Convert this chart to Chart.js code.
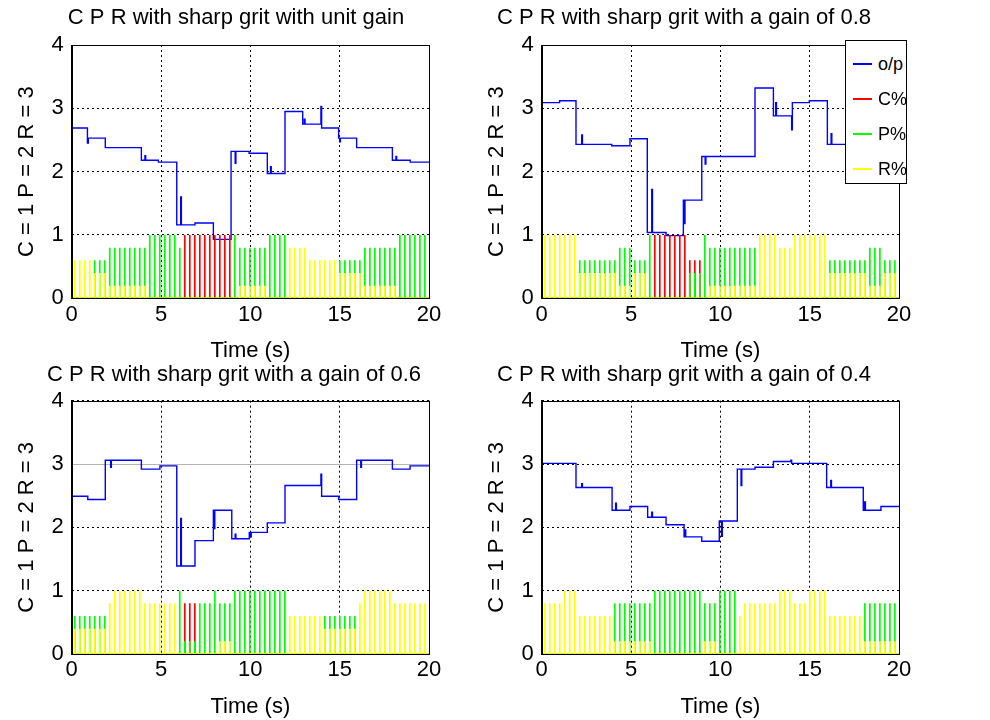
<!DOCTYPE html>
<html><head><meta charset="utf-8">
<script src="https://cdn.jsdelivr.net/npm/chart.js@4/dist/chart.umd.min.js"></script>
<style>
body{margin:0;background:#fff;width:990px;height:720px;position:relative;overflow:hidden;font-family:"Liberation Sans",Arial,sans-serif}
canvas{position:absolute}
#legend{position:absolute;left:845px;top:40px;width:62px;height:144px;border:1px solid #000;background:#fff;box-sizing:border-box}
#legend .row{position:absolute;left:0;height:20px;width:100%}
#legend .ln{position:absolute;left:7px;width:19px;top:10px;height:2px}
#legend .tx{position:absolute;left:32px;top:0px;font-size:18px;line-height:22px;color:#000}
</style></head><body>
<canvas id="p1" width="495" height="372" style="left:0;top:0"></canvas>
<canvas id="p2" width="520" height="372" style="left:470px;top:0"></canvas>
<canvas id="p3" width="495" height="360" style="left:0;top:360px"></canvas>
<canvas id="p4" width="520" height="360" style="left:470px;top:360px"></canvas>
<div id="legend"></div>
<script>
// ---- data ----
const TITLES = [
  "C P R with sharp grit with unit gain",
  "C P R with sharp grit with a gain of 0.8",
  "C P R with sharp grit with a gain of 0.6",
  "C P R with sharp grit with a gain of 0.4"
];
const X_LABEL = "Time (s)";
const Y_LABEL = "C = 1 P = 2 R = 3";
const X_TICKS = [0, 5, 10, 15, 20];
const Y_TICKS = [0, 1, 2, 3, 4];
const SERIES_NAMES = ["o/p", "C%", "P%", "R%"];
const SERIES_COLORS = ["#0000ff", "#ff0000", "#00ff00", "#ffff00"];

// pulse instants (s)
const PULSE_T = [0.17,0.45,0.73,1.01,1.29,1.57,1.85,2.13,2.41,2.69,2.97,3.25,3.53,3.81,4.09,4.37,4.65,4.93,5.21,5.49,
  5.77,6.05,6.33,6.61,6.89,7.17,7.45,7.73,8.01,8.29,8.57,8.85,9.13,9.41,9.69,9.97,10.25,10.53,10.81,11.09,
  11.37,11.65,11.93,12.21,12.49,12.77,13.05,13.33,13.61,13.89,14.17,14.45,14.73,15.01,15.29,15.57,15.85,16.13,16.41,16.69,
  16.97,17.25,17.53,17.81,18.09,18.37,18.65,18.93,19.21,19.49,19.77];

// pulse levels: [first pulse, last pulse, C%, P%, R%]
const LEVELS_1 = [[0,3,0,0,0.6],[4,6,0,0.6,0.4],[7,14,0,0.8,0.2],[15,20,0,1,0],[21,21,0,0.8,0],[22,31,1,0,0],
  [32,32,0,1,0],[33,38,0,0.8,0.2],[39,42,0,1,0],[43,46,0,0,0.8],[47,52,0,0,0.6],[53,57,0,0.6,0.4],[58,64,0,0.8,0.2],[65,70,0,1,0]];
const LEVELS_2 = [[0,6,0,0,1],[7,14,0,0.6,0.4],[15,17,0,0.8,0.2],[18,20,0,0.6,0.4],[21,21,0,1,0],[22,28,1,0,0],
  [29,31,0.6,0.4,0],[32,32,0,1,0],[33,42,0,0.8,0.2],[43,46,0,0,1],[47,49,0,0,0.8],[50,56,0,0,1],[57,64,0,0.6,0.4],
  [65,67,0,0.8,0.2],[68,70,0,0.6,0.4]];
const LEVELS_3 = [[0,6,0,0.6,0.4],[7,7,0,0,0.8],[8,13,0,0,1],[14,20,0,0,0.8],[21,21,0,1,0],[22,24,0.8,0.2,0],
  [25,27,0,0.8,0],[28,28,0,1,0],[29,31,0,0.8,0.2],[32,42,0,1,0],[43,49,0,0,0.6],[50,56,0,0.6,0.4],[57,57,0,0,0.8],
  [58,63,0,0,1],[64,70,0,0,0.8]];
const LEVELS_4 = [[0,3,0,0,0.8],[4,6,0,0,1],[7,13,0,0,0.6],[14,21,0,0.8,0.2],[22,31,0,1,0],[32,34,0,0.8,0.2],
  [35,38,0,1,0],[39,39,0,0,0.6],[40,46,0,0,0.8],[47,49,0,0,1],[50,52,0,0,0.8],[53,56,0,0,1],[57,63,0,0,0.6],[64,70,0,0.8,0.2]];

// output (o/p) steps: [time, value from that time on]
const OUT_1 = [[0,2.69],[0.88,2.45],[0.93,2.53],[1.88,2.38],[3.9,2.18],[4.1,2.25],[4.14,2.18],[4.85,2.15],[5.88,1.16],
  [6.1,1.6],[6.14,1.16],[6.9,1.19],[7.93,0.93],[8.92,2.32],[9.15,2.13],[9.19,2.32],[9.93,2.29],[10.95,1.97],[11.13,2.08],
  [11.17,1.97],[11.94,2.95],[12.93,2.75],[13.02,2.83],[13.06,2.75],[13.95,3.03],[13.99,2.69],[14.94,2.53],[15.0,2.47],
  [15.04,2.53],[15.95,2.38],[17.95,2.18],[18.15,2.24],[18.19,2.18],[18.95,2.15],[20,2.15]];
const OUT_2 = [[0,3.09],[1.0,3.12],[1.92,2.43],[2.24,2.58],[2.28,2.43],[3.92,2.41],[4.94,2.52],[5.91,1.04],[6.16,1.72],
  [6.2,1.04],[6.96,0.99],[7.93,1.55],[7.98,1.18],[8.02,1.55],[8.96,2.24],[9.15,2.12],[9.19,2.24],[11.94,3.32],[12.97,2.88],
  [13.1,3.09],[13.14,2.88],[13.99,2.66],[14.03,3.09],[14.98,3.12],[15.99,2.43],[16.2,2.6],[16.24,2.43],[17.95,2.41],
  [18.95,2.45],[20,2.45]];
const OUT_3 = [[0,2.49],[0.9,2.44],[1.88,3.06],[2.18,2.95],[2.22,3.06],[3.9,2.92],[4.94,2.97],[5.88,1.39],[6.1,2.14],
  [6.14,1.39],[6.9,1.79],[7.93,2.27],[7.97,1.98],[8.01,2.27],[8.96,1.82],[9.15,1.89],[9.19,1.82],[9.94,1.92],[10.01,1.85],
  [10.05,1.92],[10.95,2.07],[11.94,2.66],[13.95,2.84],[13.99,2.49],[14.94,2.44],[15.95,3.06],[16.18,2.95],[16.22,3.06],
  [17.95,2.92],[18.94,2.97],[20,2.97]];
const OUT_4 = [[0,3.01],[1.92,2.63],[2.24,2.69],[2.28,2.63],[3.94,2.27],[4.14,2.38],[4.18,2.27],[4.94,2.33],[5.93,2.16],
  [6.16,2.24],[6.2,2.16],[6.96,2.04],[7.97,1.85],[8.02,1.96],[8.06,1.85],[8.96,1.78],[9.94,2.1],[10.07,1.86],[10.11,2.1],
  [10.95,2.92],[11.16,2.66],[11.2,2.92],[11.94,2.95],[12.97,3.04],[13.95,3.06],[13.99,3.01],[15.95,2.63],[16.18,2.74],
  [16.22,2.63],[18.0,2.27],[18.08,2.4],[18.12,2.27],[18.99,2.33],[20,2.33]];

// ---- build ----
const FAMILY = '"Liberation Sans", Arial, sans-serif';
const FONT = {family: FAMILY, size: 22, weight: 'normal'};

function pulseSeries(levels, col) {
  const pts = [{x: 0, y: 0}];
  for (const s of levels) {
    for (let k = s[0]; k <= s[1]; k++) {
      const h = s[col], t = PULSE_T[k];
      if (h > 0) pts.push({x: t, y: 0}, {x: t, y: h}, {x: t, y: 0});
    }
  }
  pts.push({x: 20, y: 0});
  return pts;
}

const boxPlugin = {
  id: 'box',
  afterDatasetsDraw(chart) {
    const a = chart.chartArea, ctx = chart.ctx;
    ctx.save();
    ctx.strokeStyle = '#000'; ctx.lineWidth = 1;
    ctx.strokeRect(Math.round(a.left) + 0.5, Math.round(a.top) + 0.5, Math.round(a.right - a.left), Math.round(a.bottom - a.top));
    ctx.restore();
  }
};
const titlePlugin = {
  id: 'ptitle',
  afterDraw(chart, args, opts) {
    const ctx = chart.ctx;
    ctx.save();
    ctx.font = FONT.size + 'px ' + FAMILY;
    ctx.fillStyle = '#000'; ctx.textAlign = 'center'; ctx.textBaseline = 'middle';
    ctx.fillText(opts.text, opts.x, opts.y);
    ctx.restore();
  }
};

function makeChart(id, title, out, levels, cfg) {
  const datasets = [
    {label: SERIES_NAMES[0], data: out.map(p => ({x: p[0], y: p[1]})), borderColor: SERIES_COLORS[0], borderWidth: 1.4, stepped: 'before', order: 4},
    {label: SERIES_NAMES[1], data: pulseSeries(levels, 2), borderColor: SERIES_COLORS[1], borderWidth: 1.7, order: 3},
    {label: SERIES_NAMES[2], data: pulseSeries(levels, 3), borderColor: SERIES_COLORS[2], borderWidth: 1.7, order: 2},
    {label: SERIES_NAMES[3], data: pulseSeries(levels, 4), borderColor: SERIES_COLORS[3], borderWidth: 1.7, order: 1}
  ];
  const solid3 = cfg.solid3;
  return new Chart(document.getElementById(id), {
    type: 'line',
    data: {datasets},
    options: {
      responsive: false, animation: false, events: [],
      elements: {point: {radius: 0}, line: {tension: 0, borderJoinStyle: 'miter'}},
      layout: {padding: {left: 0, top: cfg.top, right: cfg.padRight, bottom: 0}},
      plugins: {
        legend: {display: false}, tooltip: {enabled: false}, title: {display: false},
        ptitle: {text: title, x: cfg.tx, y: cfg.ty}
      },
      scales: {
        x: {
          type: 'linear', min: 0, max: 20,
          afterBuildTicks: s => { s.ticks = X_TICKS.map(v => ({value: v})); },
          afterFit: s => { s.height = cfg.xH; },
          ticks: {color: '#000', font: FONT, padding: 3, maxRotation: 0, autoSkip: false},
          grid: {color: '#000', lineWidth: 1, drawTicks: false},
          border: {display: true, color: '#000', dash: [2, 3]},
          title: {display: true, text: X_LABEL, color: '#000', font: FONT, padding: {top: 0, bottom: cfg.xtBot}}
        },
        y: {
          type: 'linear', min: 0, max: 4,
          afterBuildTicks: s => { s.ticks = Y_TICKS.map(v => ({value: v})); },
          afterFit: s => { s.width = 71.7; },
          ticks: {color: '#000', font: FONT, padding: 8},
          grid: {
            color: c => (solid3 && c.tick && c.tick.value === 3) ? '#b4b4b4' : '#000',
            lineWidth: 1, drawTicks: false
          },
          border: {display: true, color: '#000',
            dash: c => (solid3 && c.tick && c.tick.value === 3) ? [] : [2, 3]},
          title: {display: true, text: Y_LABEL, color: '#000', font: FONT, padding: {top: 13.8, bottom: 0}}
        }
      }
    },
    plugins: [boxPlugin, titlePlugin]
  });
}

const charts = [
  makeChart('p1', TITLES[0], OUT_1, LEVELS_1, {padRight: 66, top: 45, xH: 73.7, xtBot: 7.8, tx: 236, ty: 18}),
  makeChart('p2', TITLES[1], OUT_2, LEVELS_2, {padRight: 91, top: 45, xH: 73.7, xtBot: 7.8, tx: 214, ty: 18}),
  makeChart('p3', TITLES[2], OUT_3, LEVELS_3, {padRight: 66, top: 40.7, xH: 66, xtBot: 0, tx: 234, ty: 15, solid3: true}),
  makeChart('p4', TITLES[3], OUT_4, LEVELS_4, {padRight: 91, top: 40.7, xH: 66, xtBot: 0, tx: 214, ty: 15})
];

// legend
const leg = document.getElementById('legend');
SERIES_NAMES.forEach((n, i) => {
  const r = document.createElement('div');
  r.className = 'row'; r.style.top = (12 + i * 35) + 'px';
  r.innerHTML = '<div class="ln" style="background:' + SERIES_COLORS[i] + '"></div><div class="tx">' + n + '</div>';
  leg.appendChild(r);
});
</script>
</body></html>
